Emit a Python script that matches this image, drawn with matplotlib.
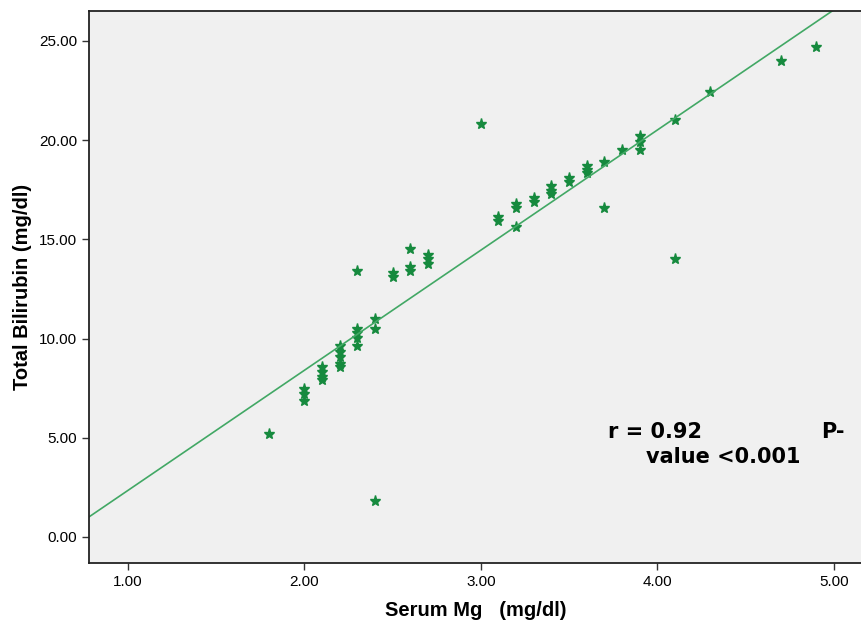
import numpy as np
import matplotlib.pyplot as plt

plt.rcParams['font.family'] = ['Liberation Sans', 'DejaVu Sans']

# serum Mg (mg/dl) and total bilirubin (mg/dl)
mg = [1.8,
      2.0, 2.0, 2.0,
      2.1, 2.1, 2.1, 2.1,
      2.2, 2.2, 2.2, 2.2, 2.2,
      2.3, 2.3, 2.3, 2.3, 2.3,
      2.4, 2.4, 2.4,
      2.5, 2.5,
      2.6, 2.6, 2.6,
      2.7, 2.7, 2.7,
      3.0,
      3.1, 3.1,
      3.2, 3.2, 3.2,
      3.3, 3.3,
      3.4, 3.4, 3.4,
      3.5, 3.5,
      3.6, 3.6, 3.6,
      3.7, 3.7,
      3.8,
      3.9, 3.9, 3.9,
      4.1, 4.1,
      4.3, 4.7, 4.9]
bili = [5.2,
        7.45, 7.2, 6.85,
        8.55, 8.3, 8.05, 7.9,
        9.6, 9.3, 9.05, 8.7, 8.55,
        13.4, 10.5, 10.3, 10.05, 9.6,
        11.0, 10.5, 1.8,
        13.3, 13.1,
        14.5, 13.6, 13.4,
        14.2, 14.0, 13.75,
        20.8,
        16.1, 15.9,
        16.8, 16.6, 15.6,
        17.1, 16.9,
        17.7, 17.45, 17.3,
        18.1, 17.9,
        18.7, 18.5, 18.35,
        18.9, 16.6,
        19.5,
        20.2, 19.9, 19.5,
        21.0, 14.0,
        22.4, 24.0, 24.7]

xticks = [1.0, 2.0, 3.0, 4.0, 5.0]
yticks = [0.0, 5.0, 10.0, 15.0, 20.0, 25.0]

fig = plt.figure(figsize=(8.62, 6.23), dpi=100)
ax = fig.add_axes([89/862, 60/623, 773/862, 552/623])
ax.set_facecolor('#f0f0f0')

ax.plot(mg, bili, linestyle='none', marker='*', markersize=8,
        color='#168a3e', markeredgecolor='#168a3e')

# linear fit line
k, b = np.polyfit(mg, bili, 1)
xl = np.array([0.78, 5.2])
ax.plot(xl, k*xl + b, color='#42a865', linewidth=1.2)

ax.set_xlim(0.78, 5.16)
ax.set_ylim(-1.31, 26.5)
ax.set_xticks(xticks)
ax.set_yticks(yticks)
ax.set_xticklabels(['%.2f' % v for v in xticks])
ax.set_yticklabels(['%.2f' % v for v in yticks])
ax.tick_params(direction='out', length=5, width=1, labelsize=11, color='#333333')
for s in ax.spines.values():
    s.set_linewidth(1.3)
    s.set_color('#222222')
ax.spines['right'].set_visible(False)

ax.set_xlabel('Serum Mg   (mg/dl)', fontsize=14.5, fontweight='bold', labelpad=9)
ax.set_ylabel('Total Bilirubin (mg/dl)', fontsize=14.5, fontweight='bold', labelpad=5)

bold = dict(fontsize=15, fontweight='bold', family='DejaVu Sans')
ax.text(3.72, 4.99, 'r = 0.92', **bold)
ax.text(4.93, 4.99, 'P-', **bold)
ax.text(3.935, 3.73, 'value <0.001', **bold)

fig.savefig('out.png', dpi=100)
